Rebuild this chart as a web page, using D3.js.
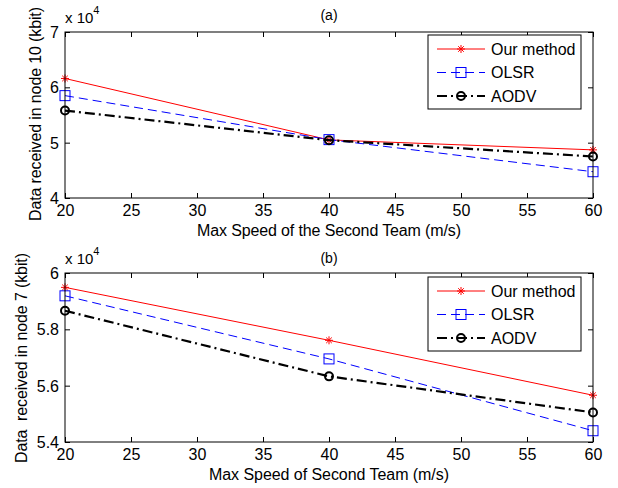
<!DOCTYPE html>
<html>
<head>
<meta charset="utf-8">
<script src="https://cdn.jsdelivr.net/npm/d3@7"></script>
<style>
  html, body { margin: 0; padding: 0; background: #fff; }
  svg { display: block; }
  text { font-family: "Liberation Sans", Arial, sans-serif; fill: #000; }
</style>
</head>
<body>
<svg id="chart" width="618" height="488"></svg>
<script>
// Max speed of the second team (m/s)
const speeds = [20, 40, 60];
const xTicks = [20, 25, 30, 35, 40, 45, 50, 55, 60];

// Panel (a): data received in node 10 (kbit)
const aOurMethod = [61600, 50500, 48700];
const aOLSR      = [58500, 50550, 44750];
const aAODV      = [55800, 50450, 47500];
const aYTicks    = [40000, 50000, 60000, 70000];

// Panel (b): data received in node 7 (kbit)
const bOurMethod = [59490, 57610, 55660];
const bOLSR      = [59190, 56950, 54400];
const bAODV      = [58660, 56330, 55050];
const bYTicks    = [54000, 56000, 58000, 60000];

const seriesNames = ["Our method", "OLSR", "AODV"];

const svg = d3.select("#chart");
const FS = 16;

const styles = [
  { color: "#ff0000", width: 1, dash: null, marker: "star" },
  { color: "#0000ff", width: 1, dash: "9,5", marker: "square" },
  { color: "#000000", width: 2.2, dash: "10,4,2,4", marker: "circle" }
];

function drawMarker(g, type, color, x, y) {
  if (type === "star") {
    const s = 4;
    const p = d3.path();
    p.moveTo(x - s, y); p.lineTo(x + s, y);
    p.moveTo(x, y - s); p.lineTo(x, y + s);
    p.moveTo(x - s * 0.7, y - s * 0.7); p.lineTo(x + s * 0.7, y + s * 0.7);
    p.moveTo(x - s * 0.7, y + s * 0.7); p.lineTo(x + s * 0.7, y - s * 0.7);
    g.append("path").attr("d", p.toString()).attr("stroke", color).attr("stroke-width", 1).attr("fill", "none");
  } else if (type === "square") {
    g.append("rect").attr("x", x - 5).attr("y", y - 5).attr("width", 10).attr("height", 10)
      .attr("stroke", color).attr("stroke-width", 1).attr("fill", "none");
  } else {
    g.append("circle").attr("cx", x).attr("cy", y).attr("r", 4)
      .attr("stroke", color).attr("stroke-width", 2).attr("fill", "none");
  }
}

function panel(opts) {
  const { left, right, top, bottom, yDomain, yTicks, yFmt, series, title, titleY,
          xLabel, xLabelY, xLabelLen, yLabel, yLabelX, yLabelLen, yLabelMid, legendTop } = opts;
  const g = svg.append("g");
  const x = d3.scaleLinear().domain([20, 60]).range([left, right]);
  const y = d3.scaleLinear().domain(yDomain).range([bottom, top]);

  // series lines and markers
  series.forEach((vals, i) => {
    const st = styles[i];
    const line = d3.line().x((d, j) => x(speeds[j])).y(d => y(d));
    g.append("path").datum(vals).attr("d", line)
      .attr("fill", "none").attr("stroke", st.color).attr("stroke-width", st.width)
      .attr("stroke-dasharray", st.dash);
    vals.forEach((v, j) => drawMarker(g, st.marker, st.color, x(speeds[j]), y(v)));
  });

  // axes: bottom/left with labels, top/right mirrored ticks, all pointing inward
  const xAxis = d3.axisBottom(x).tickValues(xTicks).tickSizeInner(-5).tickSizeOuter(0).tickPadding(7);
  const yAxis = d3.axisLeft(y).tickValues(yTicks).tickFormat(yFmt).tickSizeInner(-5).tickSizeOuter(0).tickPadding(6);
  const gx = g.append("g").attr("transform", `translate(0,${bottom})`).call(xAxis);
  const gy = g.append("g").attr("transform", `translate(${left},0)`).call(yAxis);
  const gxt = g.append("g").attr("transform", `translate(0,${top})`)
    .call(d3.axisTop(x).tickValues(xTicks).tickSizeInner(-5).tickSizeOuter(0).tickFormat(""));
  const gyr = g.append("g").attr("transform", `translate(${right},0)`)
    .call(d3.axisRight(y).tickValues(yTicks).tickSizeInner(-5).tickSizeOuter(0).tickFormat(""));
  [gx, gy, gxt, gyr].forEach(a => {
    a.select(".domain").remove();
    a.selectAll("line").attr("stroke", "#000");
    a.selectAll("text").attr("font-size", FS).attr("font-family", "Liberation Sans, Arial, sans-serif").attr("fill", "#000");
  });
  gy.selectAll("text").attr("dy", "0.35em");

  g.append("rect").attr("x", left).attr("y", top).attr("width", right - left).attr("height", bottom - top)
    .attr("fill", "none").attr("stroke", "#000").attr("stroke-width", 1);

  // exponent label
  const ex = g.append("text").attr("x", left).attr("y", top - 9).attr("font-size", 15);
  ex.append("tspan").text("x 10");
  ex.append("tspan").attr("font-size", 11).attr("dy", -9).text("4");

  g.append("text").attr("x", (left + right) / 2).attr("y", titleY)
    .attr("text-anchor", "middle").attr("font-size", 14).text(title);
  g.append("text").attr("x", (left + right) / 2 + 0).attr("y", xLabelY)
    .attr("text-anchor", "middle").attr("font-size", FS)
    .attr("textLength", xLabelLen).attr("lengthAdjust", "spacing").text(xLabel);
  g.append("text").attr("transform", `translate(${yLabelX},${yLabelMid}) rotate(-90)`)
    .attr("text-anchor", "middle").attr("font-size", FS).attr("xml:space", "preserve")
    .attr("textLength", yLabelLen).attr("lengthAdjust", "spacing")
    .style("white-space", "pre").text(yLabel);

  // legend
  const lx = 428, lw = 153, lh = 74;
  const lg = g.append("g");
  lg.append("rect").attr("x", lx).attr("y", legendTop).attr("width", lw).attr("height", lh)
    .attr("fill", "#fff").attr("stroke", "#000").attr("stroke-width", 1);
  seriesNames.forEach((name, i) => {
    const st = styles[i];
    const ry = legendTop + 14 + i * 23.5;
    lg.append("line").attr("x1", lx + 9).attr("x2", lx + 57).attr("y1", ry).attr("y2", ry)
      .attr("stroke", st.color).attr("stroke-width", st.width).attr("stroke-dasharray", st.dash);
    drawMarker(lg, st.marker, st.color, lx + 33, ry);
    lg.append("text").attr("x", lx + 63).attr("y", ry).attr("dy", "0.36em").attr("font-size", FS).text(name);
  });
}

panel({
  left: 65, right: 593, top: 32, bottom: 198,
  yDomain: [40000, 70000], yTicks: aYTicks, yFmt: d => d / 10000,
  series: [aOurMethod, aOLSR, aAODV],
  title: "(a)", titleY: 20,
  xLabel: "Max Speed of the Second Team (m/s)", xLabelY: 236, xLabelLen: 264,
  yLabel: "Data received in node 10 (kbit)", yLabelX: 41, yLabelLen: 214, yLabelMid: 114,
  legendTop: 35
});

panel({
  left: 65, right: 593, top: 273, bottom: 442,
  yDomain: [54000, 60000], yTicks: bYTicks, yFmt: d => (d / 10000).toFixed(1).replace(/\.0$/, ""),
  series: [bOurMethod, bOLSR, bAODV],
  title: "(b)", titleY: 263,
  xLabel: "Max Speed of Second Team (m/s)", xLabelY: 480, xLabelLen: 240,
  yLabel: "Data  received in node 7 (kbit)", yLabelX: 27, yLabelLen: 210, yLabelMid: 358,
  legendTop: 277
});
</script>
</body>
</html>
